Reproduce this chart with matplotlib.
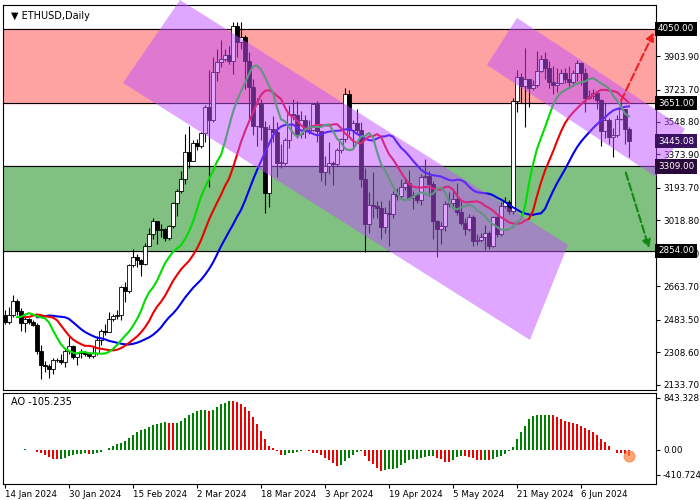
import matplotlib
matplotlib.use("Agg")
import matplotlib.pyplot as plt
from matplotlib.patches import Polygon, Rectangle
import numpy as np
import pandas as pd

closes = [2470,2511,2587,2528,2467,2490,2470,2455,2314,2242,2235,2218,2268,2265,2258,2316,2344,2282,
 2305,2309,2297,2290,2304,2373,2425,2420,2487,2503,2507,2660,2640,2777,2823,2803,2786,2880,2945,3015,2968,2970,2924,2990,3112,3178,3242,3385,3340,
 3435,3420,3490,3630,3560,3820,3870,3890,3910,3880,4066,3980,4005,3880,3735,3525,3645,3520,3165,3510,3495,3330,3330,3450,3590,3585,3485,3560,3500,3505,3645,
 3500,3280,3310,3330,3320,3400,3455,3700,3505,3545,3505,3240,3000,3100,3095,3085,2985,3060,3055,3160,3150,3200,3220,3140,3155,3130,3255,3260,3215,3015,
 2970,2990,3105,3115,3135,3065,3005,2975,3035,2910,2912,2930,2950,2880,3035,2945,3095,3120,3070,3660,3790,3740,3780,3730,3750,3825,3890,3840,3765,3750,3760,
 3815,3780,3765,3810,3865,3810,3680,3690,3705,3665,3500,3560,3470,3480,3565,3620,3510,3445]
highs = [2535,2550,2615,2595,2545,2505,2495,2480,2465,2345,2260,2245,2275,2280,2300,2325,2390,2350,
 2310,2325,2310,2310,2335,2395,2435,2460,2525,2515,2535,2665,2685,2785,2865,2835,2810,2895,2980,3030,3010,3000,2980,2995,3120,3190,3285,3485,3525,
 3450,3455,3495,3640,3830,3900,3940,3990,3940,3960,4090,4090,4085,4015,3925,3780,3680,3670,3555,3530,3580,3550,3430,3460,3640,3670,3660,3610,3585,3560,3650,
 3660,3500,3365,3440,3340,3410,3460,3730,3720,3560,3620,3550,3300,3170,3280,3125,3125,3090,3130,3175,3195,3240,3255,3290,3175,3165,3270,3350,3285,3230,
 3020,3010,3125,3170,3175,3220,3125,3030,3055,3050,2945,2950,2995,2960,3040,3045,3120,3145,3130,3680,3830,3815,3945,3770,3775,3930,3910,3925,3880,3850,3840,
 3835,3840,3850,3830,3885,3870,3840,3720,3725,3710,3670,3650,3570,3515,3585,3660,3620,3520]
lows = [2460,2460,2500,2510,2425,2415,2460,2450,2300,2165,2200,2170,2190,2255,2245,2230,2300,2270,
 2240,2280,2290,2275,2280,2295,2350,2400,2415,2475,2490,2480,2580,2630,2770,2765,2720,2780,2880,2920,2890,2930,2905,2915,2980,3045,3165,3215,3300,
 3340,3400,3410,3440,3200,3550,3770,3845,3880,3860,3805,3900,3940,3725,3565,3480,3420,3450,3060,3090,3440,3250,3300,3315,3410,3560,3460,3460,3460,3485,3500,
 3440,3230,3210,3270,3210,3310,3380,3440,3480,3410,3490,3200,2850,2950,3030,3030,2920,2950,2880,3030,3130,3140,3180,3130,3080,3110,3100,3245,3150,2920,
 2820,2890,2960,3090,3080,3050,2995,2940,2960,2880,2885,2900,2860,2865,2875,2930,2935,3085,3055,3055,3600,3650,3520,3630,3720,3735,3820,3780,3730,3700,3710,
 3760,3760,3730,3740,3770,3750,3600,3670,3670,3620,3420,3460,3430,3360,3470,3560,3430,3360]
date_labels = ["14 Jan 2024","30 Jan 2024","15 Feb 2024","2 Mar 2024","18 Mar 2024","3 Apr 2024",
               "19 Apr 2024","5 May 2024","21 May 2024","6 Jun 2024"]
date_pos = [0,16,32,48,64,80,96,112,128,144]
price_ticks = [3903.90,3723.70,3548.80,3373.90,3193.70,3018.80,2838.70,2663.70,2483.50,2308.60,2133.70]
levels = [4050.00,3651.00,3309.00,2854.00]

c = np.array(closes, float); h = np.array(highs, float); l = np.array(lows, float)
o = np.concatenate([[2510.0], c[:-1]])
n = len(c); idx = np.arange(n)

fig = plt.figure(figsize=(7,5), dpi=100)
W, H = 700, 500
def ax_rect(x0, y0, x1, y1):
    return [x0/W, 1-y1/H, (x1-x0)/W, (y1-y0)/H]
ax = fig.add_axes(ax_rect(3,5,656,390))
ax2 = fig.add_axes(ax_rect(3,393,656,484))
XL = (-0.5, 162.75)
YL = (2105, 4179)
ax.set_xlim(XL); ax.set_ylim(YL)

def px(xp, yp):
    return ((xp-3)/4-0.5, 4050-(yp-29)*5.387)

ax.axhspan(3651, 4050, color='#ffa2a2', zorder=0)
ax.axhspan(2854, 3309, color='#80c080', zorder=0)
for lv in levels:
    ax.axhline(lv, color='black', lw=0.8, zorder=1)

for i in idx:
    ax.vlines(i, l[i], h[i], color='black', lw=0.8, zorder=2)
    up = c[i] >= o[i]
    ax.add_patch(Rectangle((i-0.38, min(o[i],c[i])), 0.76, max(abs(c[i]-o[i]), 2),
                 facecolor='white' if up else 'black', edgecolor='black', lw=0.6, zorder=3))

med = pd.Series((h+l)/2)
def smma(s, p):
    return s.ewm(alpha=1/p, adjust=False).mean()
jaw = smma(med,13).shift(8); teeth = smma(med,8).shift(5); lips = smma(med,5).shift(3)
ax.plot(idx, jaw, color='#0000ee', lw=1.5, zorder=4)
ax.plot(idx, teeth, color='#ee0000', lw=1.5, zorder=4)
ax.plot(idx, lips, color='#00dd00', lw=1.5, zorder=4)

ch1 = [px(123,83), px(180,0), px(568,245), px(530,340)]
ch2 = [px(487,65), px(517,18), px(685,129), px(656,177)]
for ch in (ch1, ch2):
    ax.add_patch(Polygon(ch, closed=True, facecolor='#c050ff', alpha=0.5, lw=0, zorder=5, clip_on=False))

ax.annotate('', xy=px(655,30), xytext=px(620,103),
            arrowprops=dict(arrowstyle='-|>', color='#ee2222', lw=1.5, ls='--', mutation_scale=12), zorder=6)
ax.annotate('', xy=px(650,251), xytext=px(625,170),
            arrowprops=dict(arrowstyle='-|>', color='#118811', lw=1.5, ls='--', mutation_scale=12), zorder=6)

ax.text(0.012, 0.985, '\u25BC ETHUSD,Daily', transform=ax.transAxes, fontsize=7, va='top', ha='left', zorder=10)

ax.yaxis.tick_right()
ax.set_yticks(price_ticks)
ax.set_yticklabels([f"{v:.2f}" for v in price_ticks], fontsize=6.3)
ax.tick_params(axis='y', length=3, pad=2)
for lv, bg in [(4050,'black'),(3651,'black'),(2854,'black'),(3309,'#2a0a3a'),(3445.08,'#3a1060')]:
    ax.text(1.003, lv, f"{lv:.2f}", transform=ax.get_yaxis_transform(), fontsize=6.3, color='white',
            va='center', ha='left', bbox=dict(boxstyle='square,pad=0.3', fc=bg, ec='none'), zorder=10, clip_on=False)
ax.set_xticks([])

ao = med.rolling(5, min_periods=1).mean() - med.rolling(34, min_periods=1).mean()
ao = ao.values
cols = ['#008000' if i == 0 or ao[i] >= ao[i-1] else '#ee0000' for i in idx]
ax2.bar(idx, ao, width=0.7, color=cols, zorder=2)
ax2.scatter([idx[-1]], [ao[-1]], s=60, color='#ff8040', alpha=0.7, zorder=3)
ax2.set_xlim(XL); ax2.set_ylim(-560, 923)
ax2.yaxis.tick_right()
ax2.set_yticks([843.328, 0.0, -410.724])
ax2.set_yticklabels(["843.328", "0.00", "-410.724"], fontsize=6.3)
ax2.tick_params(axis='y', length=3, pad=2)
ax2.text(0.012, 0.96, f"AO {ao[-1]:.3f}", transform=ax2.transAxes, fontsize=7, va='top')
ax2.set_xticks(date_pos)
ax2.set_xticklabels(date_labels, fontsize=6.3, ha='left')
ax2.tick_params(axis='x', length=3, pad=1)
for a in (ax, ax2):
    for s in a.spines.values():
        s.set_linewidth(0.8)

fig.savefig('out.png', dpi=100)
